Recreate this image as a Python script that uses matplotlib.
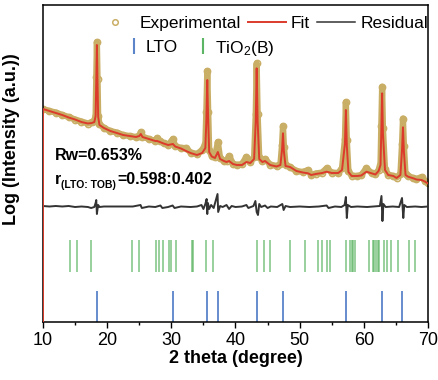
import numpy as np
import matplotlib
matplotlib.use('Agg')
import matplotlib.pyplot as plt
from matplotlib.lines import Line2D

plt.rcParams.update({
    'font.family': 'sans-serif',
    'font.sans-serif': ['Liberation Sans', 'DejaVu Sans'],
    'mathtext.fontset': 'custom',
    'mathtext.rm': 'Liberation Sans',
    'mathtext.bf': 'Liberation Sans:bold',
})

# ---------------------------------------------------------------------------
# Data (intensity in arbitrary offset units)
# ---------------------------------------------------------------------------
two_theta = [10.0, 11.0, 12.0, 13.0, 14.0, 15.0, 16.0, 17.0, 17.6, 18.0,
             18.2, 18.3, 18.4, 18.5, 18.6, 18.8, 19.5, 20.5, 21.5, 22.5,
             23.5, 24.5, 25.0, 25.25, 25.5, 26.5, 27.5, 27.8, 28.2, 28.8,
             29.5, 30.25, 30.6, 31.5, 32.3, 33.0, 34.0, 34.8, 35.3, 35.45,
             35.6, 35.75, 35.9, 36.3, 36.8, 37.25, 37.6, 38.2, 38.6, 39.0,
             39.6, 40.2, 41.0, 41.7, 42.3, 42.9, 43.15, 43.3, 43.45, 43.7,
             44.2, 44.6, 45.4, 46.4, 47.0, 47.25, 47.4, 47.55, 47.8, 48.5,
             49.5, 50.5, 51.3, 51.8, 52.5, 53.5, 54.2, 55.0, 56.0, 56.6,
             57.05, 57.2, 57.35, 57.6, 58.1, 59.0, 59.6, 60.4, 61.2, 61.8,
             62.3, 62.6, 62.72, 62.85, 62.98, 63.3, 63.8, 64.6, 65.1, 65.7,
             65.95, 66.1, 66.25, 66.5, 66.9, 67.7, 68.2, 69.0, 69.5, 70.0]

experimental = [213, 211, 209.5, 207, 205, 202.5, 200.5, 198.5, 200, 201,
                207, 245, 280, 243, 206, 198, 194, 191, 189.5, 187,
                186, 185, 186.5, 190, 185.5, 183, 181, 184, 181, 179,
                177, 183, 176, 174, 174, 169.5, 168, 172, 178, 210,
                251, 210, 172, 166, 165, 180, 164, 161, 161, 166,
                158.5, 157, 158, 165, 160, 165, 208, 258.7, 208, 165,
                161, 163, 157.5, 156, 158, 177, 196, 175, 157, 155,
                151, 150, 152, 147, 148.5, 149.5, 153.7, 149.5, 149, 154,
                183, 220, 182, 151, 146.5, 146, 147, 153.7, 149, 148,
                152, 159, 196, 235.3, 194, 153, 147.5, 146, 144.5, 148,
                178, 203.5, 176, 148, 146, 144, 143, 145, 141, 139]

fit = [213, 211, 209, 207, 204.5, 202.5, 200, 198.5, 199, 200,
       206, 240, 277, 238, 205, 197, 194, 191, 189, 187,
       186, 185, 186, 188, 185, 183, 181, 181, 180, 178.5,
       177, 178, 175.5, 173.5, 171, 169, 167, 169, 174, 200,
       242, 200, 170, 165.5, 164, 170, 163, 161, 160, 161,
       158, 157, 157, 160, 159, 163, 200, 253.7, 200, 163,
       160, 161, 157, 155.5, 157, 172, 188.7, 170, 156, 155,
       151, 149.5, 148.7, 147, 148, 149, 150.3, 149, 149, 152,
       178, 212, 176, 150, 146, 146, 146.5, 150.3, 148.7, 147.5,
       151, 157, 190, 228.7, 188, 152, 147, 146, 144, 147,
       172, 194.7, 170, 147, 145.3, 143.7, 142.5, 142, 140.5, 138.5]

res_theta = [10.0, 11.0, 12.0, 13.0, 14.0, 15.0, 16.0, 17.0, 17.5, 18.0,
             18.2, 18.3, 18.4, 18.5, 18.6, 18.8, 19.5, 20.5, 22.0, 24.0,
             25.2, 25.4, 26.5, 27.5, 28.3, 28.6, 29.5, 30.2, 30.5, 31.5,
             33.0, 34.0, 34.7, 35.0, 35.3, 35.5, 35.6, 35.7, 35.9, 36.2,
             36.6, 37.2, 37.3, 37.6, 38.0, 38.6, 39.0, 39.4, 40.0, 41.0,
             41.7, 42.0, 42.8, 43.1, 43.3, 43.5, 43.7, 44.0, 44.6, 45.0,
             45.5, 46.5, 47.3, 47.5, 47.8, 48.5, 50.0, 51.5, 53.0, 54.2,
             54.5, 55.5, 56.5, 57.0, 57.2, 57.35, 57.5, 58.0, 59.0, 60.5,
             61.5, 62.5, 62.75, 62.9, 63.05, 63.4, 64.5, 65.5, 65.95, 66.15,
             66.3, 66.7, 68.0, 69.0, 70.0]

residual = [116, 115.5, 116, 115.5, 116, 115, 115.5, 115, 114, 115,
            119, 122, 108, 113, 117, 115, 115.5, 115.5, 115.5, 115.5,
            117, 114, 115.5, 115, 116.5, 114, 115, 116.5, 114, 115.5,
            115, 115.5, 117, 113, 118, 123, 108, 119, 113, 117,
            114, 128, 110, 116, 115, 117, 113, 116, 115, 115.5,
            117, 114, 116, 121, 110, 107, 118, 115, 116.5, 114,
            115.5, 115, 118, 112, 116, 115, 115.5, 115, 115.5, 116.5,
            114, 115.5, 115, 117, 125, 104, 117, 115, 115.5, 115,
            115.5, 116, 126, 101, 118, 115, 115.5, 115, 124, 104,
            117, 115, 115.5, 115, 115.5]

# reference reflection positions
lto_pos = [18.37, 30.2, 35.5, 37.22, 43.3, 47.35, 57.17, 62.78, 66.0]
tio2b_pos = [14.21, 15.25, 17.48, 23.82, 25.01, 27.61, 28.13, 28.75, 29.69,
             29.95, 30.73, 33.17, 33.43, 35.35, 36.44, 43.40, 44.49, 45.38,
             48.49, 50.83, 52.91, 53.43, 54.21, 54.73, 57.22, 57.84, 58.10,
             58.36, 58.62, 60.85, 61.37, 61.63, 61.89, 62.15, 62.41, 63.19,
             63.56, 64.23, 65.27, 67.08, 67.97]

c_exp = '#c9ae66'
c_fit = '#dc3b2b'
c_res = '#333333'
c_lto = '#5b84c9'
c_tio = '#5cb564'

# ---------------------------------------------------------------------------
# Plot
# ---------------------------------------------------------------------------
fig = plt.figure(figsize=(4.39, 3.80), dpi=100)
ax = fig.add_axes([43 / 439, 1 - 322 / 380, 385 / 439, 317 / 380])

ax.plot(two_theta, experimental, color=c_exp, lw=4.5, solid_capstyle='round',
        solid_joinstyle='round', zorder=2)
ax.plot(two_theta, experimental, linestyle='none', marker='o', ms=4.5,
        mfc='none', mec=c_exp, mew=1.1, zorder=2)
ax.plot(two_theta, fit, color=c_fit, lw=1.4, zorder=3)
# the fit trace starts from the baseline at the first point
ax.vlines(two_theta[0], 0, fit[0], color=c_fit, lw=1.4, zorder=4)
ax.plot(res_theta, residual, color=c_res, lw=1.4, zorder=3)

ax.vlines(tio2b_pos, 50, 82, color=c_tio, lw=1.1, alpha=0.8)
ax.vlines(lto_pos, 0, 31, color=c_lto, lw=1.3)

# annotations: Rw and phase ratio (subscript built by hand so the colon
# keeps its plain spacing)
ax.text(11.8, 167, 'Rw=0.653%', fontsize=11.5, fontweight='bold', va='center')
t_r = ax.text(11.8, 143, 'r', fontsize=11.5, fontweight='bold', va='center')
fig.canvas.draw()
w_r = t_r.get_window_extent().width * 72 / fig.dpi
t_sub = ax.annotate('(LTO: TOB)', xy=(11.8, 143), xytext=(w_r + 0.3, -4),
                    textcoords='offset points', fontsize=7.5,
                    fontweight='bold', va='center')
fig.canvas.draw()
w_sub = t_sub.get_window_extent().width * 72 / fig.dpi
ax.annotate('=0.598:0.402', xy=(11.8, 143), xytext=(w_r + w_sub + 1.0, 0),
            textcoords='offset points', fontsize=11.5, fontweight='bold',
            va='center')

# legends
h_exp = Line2D([], [], linestyle='none', marker='o', ms=4, mfc='none',
               mec=c_exp, mew=1.1)
h_fit = Line2D([], [], color=c_fit, lw=1.4)
h_res = Line2D([], [], color=c_res, lw=1.1)
fig.legend([h_exp, h_fit, h_res], ['Experimental', 'Fit', 'Residual'],
           loc='center left', bbox_to_anchor=(96 / 439, 1 - 23 / 380),
           ncol=3, frameon=False, fontsize=12.5, handlelength=2.2,
           handletextpad=0.3, columnspacing=0.4, borderpad=0,
           borderaxespad=0)
h_lto = Line2D([], [], linestyle='none', marker='|', ms=12, mew=1.5, color=c_lto)
h_tio = Line2D([], [], linestyle='none', marker='|', ms=12, mew=1.5, color=c_tio)
fig.legend([h_lto, h_tio], ['LTO', r'TiO$_2$(B)'],
           loc='center left', bbox_to_anchor=(127 / 439, 1 - 48 / 380),
           ncol=2, frameon=False, fontsize=12.5, handlelength=0.8,
           handletextpad=0.3, columnspacing=1.0, borderpad=0, borderaxespad=0)

ax.set_xlim(10, 70)
ax.set_ylim(0, 317)
ax.set_xticks(range(10, 71, 10))
ax.set_xticks(range(15, 70, 10), minor=True)
ax.set_yticks([])
ax.tick_params(axis='x', which='major', direction='out', length=4, width=1,
               labelsize=13, pad=3)
ax.tick_params(axis='x', which='minor', direction='out', length=2.5, width=1)
for sp in ax.spines.values():
    sp.set_linewidth(1.1)

ax.set_xlabel('2 theta (degree)', fontsize=13, fontweight='bold', labelpad=1)
ax.set_ylabel('Log (Intensity (a.u.))', fontsize=13, fontweight='bold')
ax.yaxis.set_label_coords(-0.06, 0.577)

fig.savefig('out.png', dpi=100)
